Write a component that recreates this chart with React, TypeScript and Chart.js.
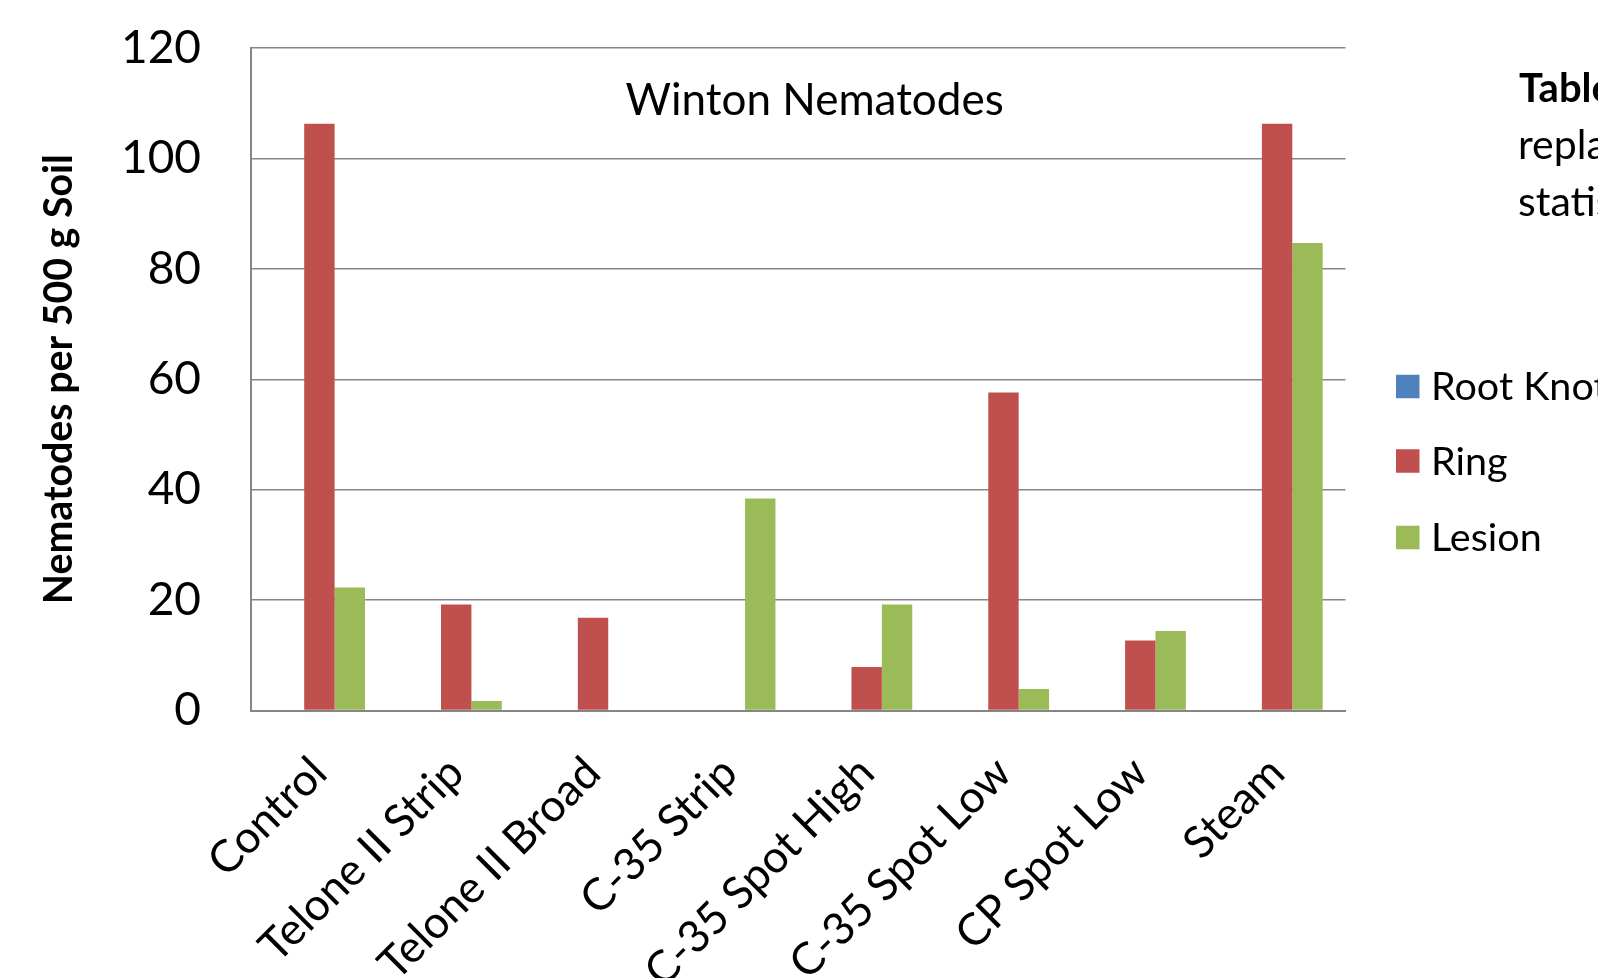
import React, { useEffect, useRef } from "react";
import { Chart, registerables } from "chart.js";

Chart.register(...registerables);

const categories = [
  "Control",
  "Telone II Strip",
  "Telone II Broad",
  "C-35 Strip",
  "C-35 Spot High",
  "C-35 Spot Low",
  "CP Spot Low",
  "Steam",
];
const rootKnot = [0, 0, 0, 0, 0, 0, 0, 0];
const ring = [106.3, 19.2, 16.8, 0, 7.9, 57.6, 12.7, 106.3];
const lesion = [22.3, 1.7, 0, 38.4, 19.2, 3.9, 14.4, 84.7];
const seriesNames = ["Root Knot", "Ring", "Lesion"];
const seriesColors = ["#4F81BD", "#C0504D", "#9BBB59"];
const chartTitle = "Winton Nematodes";
const yAxisTitle = "Nematodes per 500 g Soil";
const sideText = ["Table", "replanted", "statistically"];

const FONT = "Lato, 'Open Sans', sans-serif";

const overlayPlugin = {
  id: "overlay",
  afterDraw(chart: any) {
    const ctx = chart.ctx;
    const area = chart.chartArea;
    ctx.save();
    // title inside plot area
    ctx.fillStyle = "#000";
    ctx.font = `44px ${FONT}`;
    ctx.textAlign = "center";
    ctx.textBaseline = "alphabetic";
    ctx.fillText(chartTitle, area.left + (area.right - area.left) * 0.515, 115);

    // legend
    const ys = [386.5, 461, 537.5];
    ctx.font = `39.5px ${FONT}`;
    ctx.textAlign = "left";
    ctx.textBaseline = "middle";
    seriesNames.forEach((name, i) => {
      ctx.fillStyle = seriesColors[i];
      ctx.fillRect(1396, ys[i] - 11.75, 23.5, 23.5);
      ctx.fillStyle = "#000";
      ctx.fillText(name, 1431, ys[i] + 1);
    });

    // side text (cut off at the edge)
    ctx.textBaseline = "alphabetic";
    ctx.font = `bold 40px ${FONT}`;
    ctx.fillText(sideText[0], 1519, 102);
    ctx.font = `41px ${FONT}`;
    ctx.fillText(sideText[1], 1518, 159);
    ctx.fillText(sideText[2], 1518, 216);
    ctx.restore();
  },
};

export default function App() {
  const ref = useRef<HTMLCanvasElement | null>(null);
  useEffect(() => {
    document.body.style.margin = "0";
    const canvas = ref.current;
    if (!canvas) return;
    const data = [rootKnot, ring, lesion];
    const chart = new Chart(canvas, {
      type: "bar",
      data: {
        labels: categories,
        datasets: seriesNames.map((name, i) => ({
          label: name,
          data: data[i],
          backgroundColor: seriesColors[i],
          borderWidth: 0,
          categoryPercentage: 3 / 4.5,
          barPercentage: 1,
        })),
      },
      options: {
        responsive: false,
        animation: false,
        layout: { padding: { left: 0, right: 252.5, top: 48, bottom: 0 } },
        plugins: {
          legend: { display: false },
          title: { display: false },
          tooltip: { enabled: false },
        },
        scales: {
          x: {
            grid: { display: false, drawTicks: false },
            border: { display: true, color: "#868686", width: 2 },
            ticks: {
              color: "#000",
              font: { family: FONT, size: 44.5 },
              maxRotation: 45,
              minRotation: 45,
              autoSkip: false,
              padding: 36,
            },
            afterFit(scale: any) {
              scale.height = 978 - 710.5;
            },
          },
          y: {
            min: 0,
            max: 120,
            grid: { color: "#868686", lineWidth: 1.5, drawTicks: false },
            border: { display: true, color: "#868686", width: 2 },
            ticks: {
              stepSize: 20,
              color: "#000",
              font: { family: FONT, size: 46 },
              padding: 50,
            },
            title: {
              display: true,
              text: yAxisTitle,
              color: "#000",
              font: { family: FONT, size: 39.3, weight: "bold" },
              padding: { top: 36, bottom: 0 },
            },
            afterFit(scale: any) {
              scale.width = 251;
              scale.paddingTop = 20;
              scale.paddingBottom = 20;
            },
          },
        },
      },
      plugins: [overlayPlugin],
    });
    return () => chart.destroy();
  }, []);
  return (
    <div style={{ position: "fixed", left: 0, top: 0, width: 1598, height: 978, background: "#fff" }}>
      <canvas ref={ref} width={1598} height={978} />
    </div>
  );
}
